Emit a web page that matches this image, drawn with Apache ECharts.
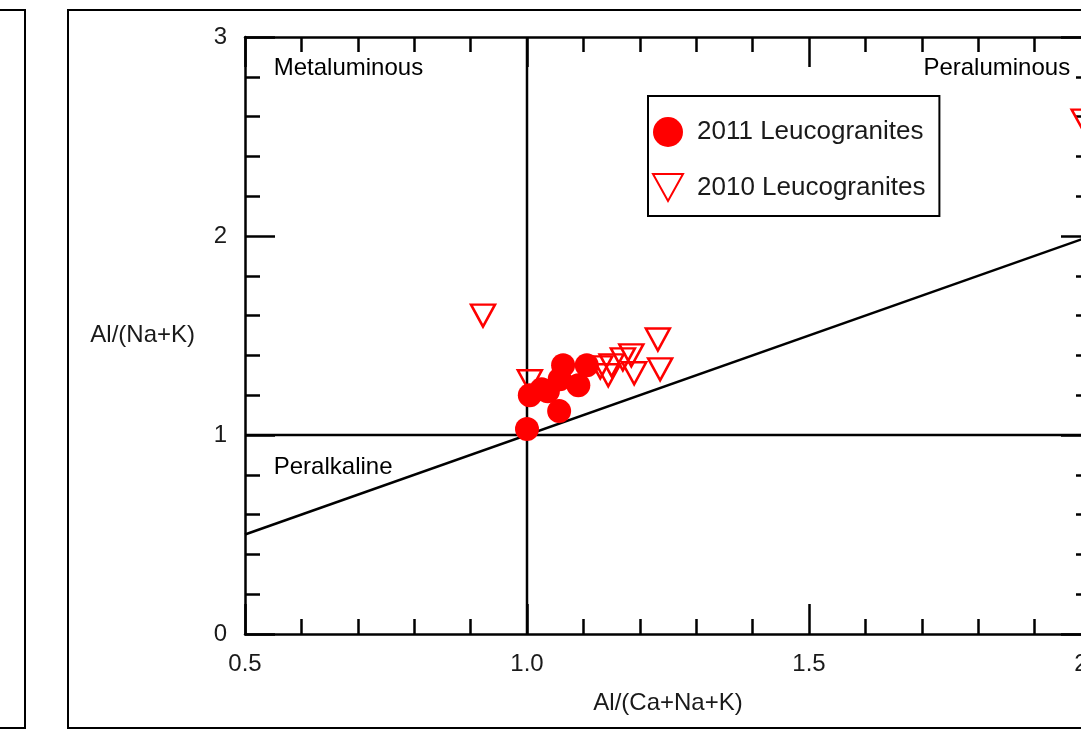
<!DOCTYPE html>
<html>
<head>
<meta charset="utf-8">
<script src="https://cdn.jsdelivr.net/npm/echarts@6/dist/echarts.min.js"></script>
<style>
  html, body { margin: 0; padding: 0; background: #fff; }
  #chart { width: 1081px; height: 731px; }
</style>
</head>
<body>
<div id="chart"></div>
<script>
// Al/(Ca+Na+K), Al/(Na+K)
var leuco2011 = [
  [1.0, 1.03], [1.057, 1.12], [1.005, 1.2], [1.026, 1.23], [1.037, 1.22],
  [1.058, 1.28], [1.064, 1.35], [1.091, 1.25], [1.106, 1.35]
];
var leuco2010 = [
  [0.922, 1.6], [1.005, 1.27], [1.13, 1.34], [1.144, 1.3], [1.15, 1.35],
  [1.17, 1.38], [1.185, 1.4], [1.19, 1.31], [1.232, 1.48], [1.236, 1.33],
  [1.987, 2.58]
];
// reference lines
var lineEqual = [[0.5, 0.5], [2.0, 2.0]];
var lineA = [[1.0, 0], [1.0, 3]];
var lineB = [[0.5, 1.0], [2.0, 1.0]];
// field names
var fieldNames = [
  ["Metaluminous", 0.551, 2.844, "right"],
  ["Peraluminous", 1.963, 2.844, "left"],
  ["Peralkaline", 0.551, 0.839, "right"]
];

var chart = echarts.init(document.getElementById("chart"));
var font = "'Liberation Sans', Arial, sans-serif";
var ink = "#000";
var downTriangle = "path://M0,0 L20,0 L10,18 Z";

function lineSeries(data) {
  return {
    type: "line",
    data: data,
    symbol: "none",
    silent: true,
    lineStyle: { color: ink, width: 2.5 },
    z: 1,
  };
}

var baseAxis = {
  axisLine: { show: true, onZero: false, lineStyle: { color: ink, width: 2.5 } },
  axisTick: { show: true, inside: true, length: 30, lineStyle: { color: ink, width: 2.5 } },
  minorTick: { show: true, splitNumber: 5, length: 15, lineStyle: { color: ink, width: 2.5 } },
  splitLine: { show: false },
  axisLabel: { color: "#1a1a1a", fontSize: 24, fontFamily: font },
};

function axis(extra) {
  return Object.assign({}, JSON.parse(JSON.stringify(baseAxis)), extra);
}

var option = {
  animation: false,
  backgroundColor: "#fff",
  graphic: [
    { type: "rect", shape: { x: -10, y: 10, width: 35, height: 718 },
      style: { fill: "none", stroke: ink, lineWidth: 2 } },
    { type: "rect", shape: { x: 68, y: 10, width: 1040, height: 718 },
      style: { fill: "none", stroke: ink, lineWidth: 2 } },
  ],
  grid: { left: 245, top: 37, width: 846, height: 597, outerBoundsMode: "none", containLabel: false },
  legend: {
    data: [
      { name: "2011 Leucogranites" },
      { name: "2010 Leucogranites", icon: downTriangle },
    ],
    orient: "vertical",
    left: 648,
    top: 96,
    padding: [21, 14, 14, 4],
    itemGap: 26,
    itemWidth: 30,
    itemHeight: 30,
    backgroundColor: "#fff",
    borderColor: ink,
    borderWidth: 2,
    borderRadius: 0,
    textStyle: { color: "#1a1a1a", fontSize: 26, fontFamily: font, padding: [0, 0, 0, 9] },
  },
  xAxis: [
    axis({
      type: "value", min: 0.5, max: 2.0, interval: 0.5, position: "bottom",
      name: "Al/(Ca+Na+K)", nameLocation: "middle", nameGap: 57,
      nameTextStyle: { color: "#1a1a1a", fontSize: 24, fontFamily: font },
      axisLabel: { color: "#1a1a1a", fontSize: 24, fontFamily: font, margin: 18,
        formatter: function (v) { return v.toFixed(1); } },
    }),
    axis({
      type: "value", min: 0.5, max: 2.0, interval: 0.5, position: "top",
      axisLabel: { show: false },
    }),
  ],
  yAxis: [
    axis({
      type: "value", min: 0, max: 3, interval: 1, position: "left",
      name: "Al/(Na+K)", nameLocation: "middle", nameGap: 50, nameRotate: 0,
      nameTextStyle: { color: "#1a1a1a", fontSize: 24, fontFamily: font, align: "right" },
      axisLabel: { color: "#1a1a1a", fontSize: 24, fontFamily: font, margin: 18 },
    }),
    axis({
      type: "value", min: 0, max: 3, interval: 1, position: "right",
      axisLabel: { show: false },
    }),
  ],
  series: [
    lineSeries(lineEqual),
    lineSeries(lineA),
    lineSeries(lineB),
    {
      name: "2010 Leucogranites",
      type: "scatter",
      data: leuco2010,
      symbol: "triangle",
      symbolRotate: 180,
      symbolSize: [24, 22],
      itemStyle: { color: "rgba(255,255,255,0)", borderColor: "#ff0000", borderWidth: 2.5, opacity: 1 },
      z: 3,
    },
    {
      name: "2011 Leucogranites",
      type: "scatter",
      data: leuco2011,
      symbol: "circle",
      symbolSize: 24,
      itemStyle: { color: "#ff0000", opacity: 1 },
      z: 4,
    },
    {
      type: "scatter",
      silent: true,
      symbolSize: 0,
      itemStyle: { opacity: 1 },
      data: fieldNames.map(function (f) {
        return {
          value: [f[1], f[2]],
          label: { show: true, position: f[3], distance: 0, formatter: f[0],
            color: "#000", fontSize: 24, fontFamily: font },
        };
      }),
      z: 2,
    },
  ],
};

chart.setOption(option);
</script>
</body>
</html>
